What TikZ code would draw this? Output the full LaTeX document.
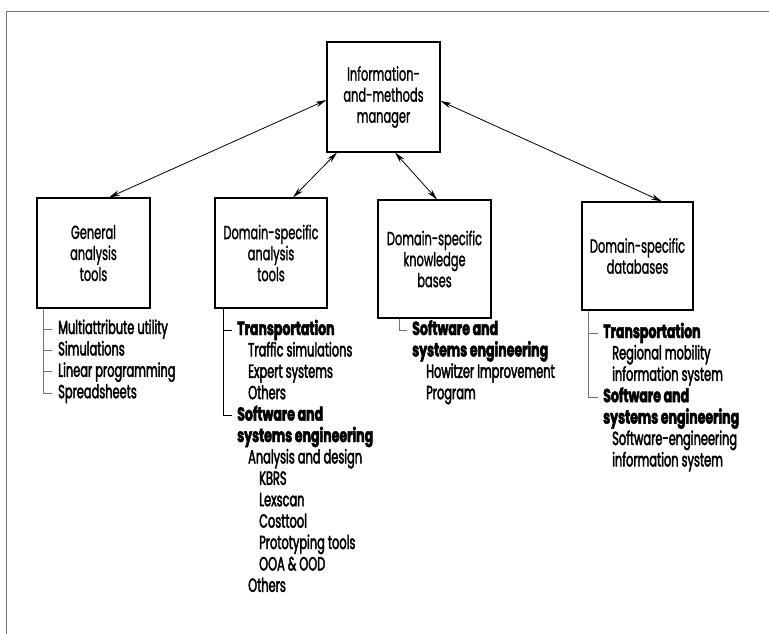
\documentclass[tikz,border=0pt]{standalone}
\usepackage{fontspec}
\setmainfont{Poppins}[FakeStretch=0.60, FakeBold=1.2]
\newfontfamily\itemfont{Poppins}[FakeStretch=0.60, FakeBold=2.2]
\newfontfamily\headfont{Poppins}[FakeStretch=0.66, FakeBold=2.5]
\usetikzlibrary{arrows.meta}
\begin{document}
\begin{tikzpicture}[x=1pt,y=-1pt,
  box/.style={draw, line width=1.1pt, minimum width=113pt, minimum height=110pt, align=center, inner sep=2pt, font=\fontsize{19}{21}\selectfont},
  conn/.style={{Stealth[length=11pt,width=5.5pt]}-{Stealth[length=11pt,width=5.5pt]}, line width=0.8pt},
  listitem/.style={anchor=west, inner sep=0pt, text height=14pt, text depth=4pt, font=\itemfont\fontsize{19}{21}\selectfont},
  headitem/.style={listitem, font=\headfont\bfseries\fontsize{19}{21}\selectfont},
  tree/.style={line width=0.7pt},
  faint/.style={line width=0.7pt, draw=black!55}]
\useasboundingbox (0,0) rectangle (769,634);
% frame remnants
\draw[black!55, line width=0.8pt] (769,11) -- (6,11) -- (6,634);

% boxes
\node[box] (mgr) at (383.5,97) {Information-\\and-methods\\manager};
\node[box] (b1) at (93.5,253) {General\\analysis\\tools};
\node[box, minimum width=112pt] (b2) at (271,253) {Domain-specific\\analysis\\tools};
\node[box, minimum height=118pt] (b3) at (434.5,259) {Domain-specific\\knowledge\\bases};
\node[box, minimum width=111pt, minimum height=108pt] (b4) at (637.5,256) {Domain-specific\\databases};

% connectors
\draw[conn] ([yshift=-3pt]mgr.west) -- ([xshift=15.5pt]b1.north);
\draw[conn] ([xshift=-46.5pt]mgr.south) -- ([xshift=22pt]b2.north);
\draw[conn] ([xshift=11.5pt]mgr.south) -- ([xshift=2.5pt]b3.north);
\draw[conn] ([yshift=-4pt]mgr.east) -- ([xshift=24.5pt]b4.north);

% list 1
\node[listitem] (g1) at (58,329) {Multiattribute utility};
\node[listitem] (g2) at (58,350.4) {Simulations};
\node[listitem] (g3) at (58,371.8) {Linear programming};
\node[listitem] (g4) at (58,393.2) {Spreadsheets};
\coordinate (g0) at ([xshift=6.5pt]b1.south west);
\foreach \n in {g1,g2,g3,g4}
  \draw[faint] (g0) |- ([xshift=-6pt]\n.west);

% list 2
\node[headitem] (d1) at (237,330) {Transportation};
\node[listitem] (d2) at (248,351.4) {Traffic simulations};
\node[listitem] (d3) at (248,372.8) {Expert systems};
\node[listitem] (d4) at (248,394.2) {Others};
\node[headitem] (d5) at (237,415.6) {Software and};
\node[headitem] (d6) at (237,437) {systems engineering};
\node[listitem] (d7) at (248,458.4) {Analysis and design};
\node[listitem] (d8) at (259,479.8) {KBRS};
\node[listitem] (d9) at (259,501.2) {Lexscan};
\node[listitem] (d10) at (259,522.6) {Costtool};
\node[listitem] (d11) at (259,544) {Prototyping tools};
\node[listitem] (d12) at (259,565.4) {OOA \& OOD};
\node[listitem] (d13) at (248,586.8) {Others};
\coordinate (d0) at ([xshift=9pt]b2.south west);
\draw[tree] (d0) |- ([xshift=-5pt]d1.west);
\draw[tree] (d0) |- ([xshift=-5pt]d5.west);

% list 3
\node[headitem] (k1) at (412,330) {Software and};
\node[headitem] (k2) at (412,351.4) {systems engineering};
\node[listitem] (k3) at (426,372.8) {Howitzer Improvement};
\node[listitem] (k4) at (426,394.2) {Program};
\coordinate (k0) at ([xshift=22pt]b3.south west);
\draw[faint] (k0) |- ([xshift=-5pt]k1.west);

% list 4
\node[headitem] (s1) at (603,333) {Transportation};
\node[listitem] (s2) at (612,354.4) {Regional mobility};
\node[listitem] (s3) at (612,375.8) {information system};
\node[headitem] (s4) at (603,397.2) {Software and};
\node[headitem] (s5) at (603,418.6) {systems engineering};
\node[listitem] (s6) at (612,440) {Software-engineering};
\node[listitem] (s7) at (612,461.4) {information system};
\coordinate (s0) at ([xshift=7pt]b4.south west);
\draw[faint] (s0) |- ([xshift=-5pt]s1.west);
\draw[faint] (s0) |- ([xshift=-5pt]s4.west);
\end{tikzpicture}
\end{document}
